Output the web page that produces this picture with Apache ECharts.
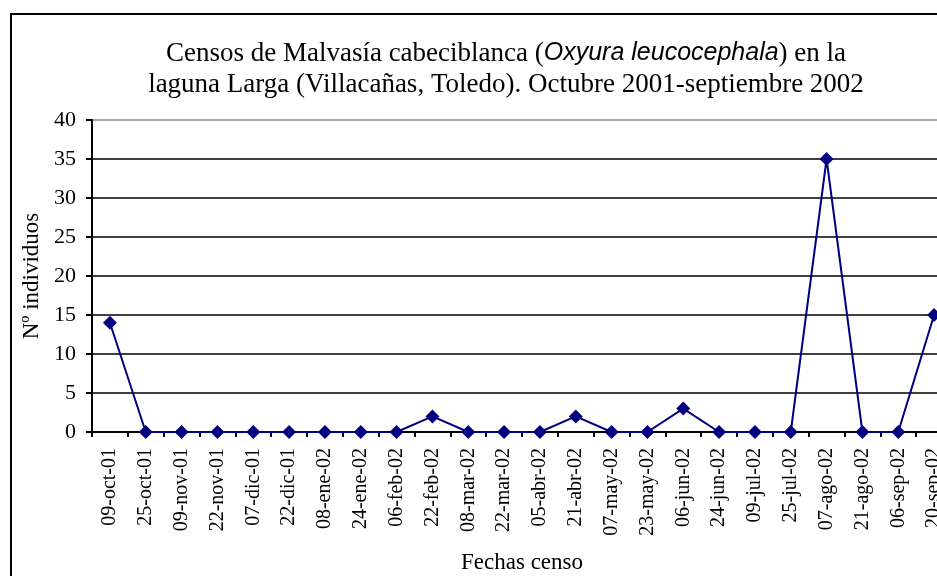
<!DOCTYPE html>
<html><head><meta charset="utf-8">
<script src="https://cdn.jsdelivr.net/npm/echarts@6/dist/echarts.min.js"></script>
<style>html,body{margin:0;padding:0;background:#fff}#c{width:937px;height:576px}</style>
</head><body><div id="c"></div>
<script>
const categories = ['09-oct-01','25-oct-01','09-nov-01','22-nov-01','07-dic-01','22-dic-01','08-ene-02','24-ene-02','06-feb-02','22-feb-02','08-mar-02','22-mar-02','05-abr-02','21-abr-02','07-may-02','23-may-02','06-jun-02','24-jun-02','09-jul-02','25-jul-02','07-ago-02','21-ago-02','06-sep-02','20-sep-02'];
const individuos = [14,0,0,0,0,0,0,0,0,2,0,0,0,2,0,0,3,0,0,0,35,0,0,15];
const yTicks = [0,5,10,15,20,25,30,35,40];

const serif = '"Liberation Serif", "DejaVu Serif", serif';
const chart = echarts.init(document.getElementById('c'), null, {renderer:'canvas'});
chart.setOption({
  animation:false,
  backgroundColor:'#fff',
  title:{
    text:'Censos de Malvasía cabeciblanca ({i|Oxyura leucocephala}) en la\nlaguna Larga (Villacañas, Toledo). Octubre 2001-septiembre 2002',
    left:501, top:33, textAlign:'center',
    textStyle:{
      fontFamily:serif, fontSize:27, fontWeight:'normal', color:'#000', lineHeight:31, align:'center',
      rich:{ i:{fontFamily:'"Liberation Sans", Arial, sans-serif', fontStyle:'italic', fontSize:25, color:'#000'} }
    }
  },
  graphic:[{type:'rect', shape:{x:11,y:14,width:1000,height:700}, style:{fill:'none',stroke:'#000',lineWidth:2}, silent:true}],
  grid:{left:92, top:120, right:-15, height:312, containLabel:false, outerBoundsMode:'none', show:false},
  xAxis:{
    type:'category', data:categories, boundaryGap:true,
    axisLine:{lineStyle:{color:'#000',width:2}},
    axisTick:{show:true, alignWithLabel:false, length:5, lineStyle:{color:'#000',width:2}},
    axisLabel:{rotate:90, interval:0, margin:16, fontFamily:serif, fontSize:20, color:'#000'},
    name:'Fechas censo', nameLocation:'middle', nameGap:119,
    nameTextStyle:{fontFamily:serif, fontSize:23, color:'#000'},
    splitLine:{show:false}
  },
  yAxis:{
    type:'value', min:0, max:40, interval:5,
    axisLine:{show:true, lineStyle:{color:'#000',width:2}},
    axisTick:{show:true, length:6, lineStyle:{color:'#000',width:2}},
    axisLabel:{fontFamily:serif, fontSize:22, color:'#000', margin:16,
      formatter:v=>yTicks.includes(v)?String(v):''},
    splitLine:{show:true, lineStyle:{color:['#000','#000','#000','#000','#000','#000','#000','#000','#888'], width:1.5}},
    name:'Nº individuos', nameLocation:'middle', nameGap:43,
    nameTextStyle:{fontFamily:serif, fontSize:23, color:'#000'}
  },
  series:[{
    type:'line', data:individuos,
    symbol:'diamond', symbolSize:14,
    lineStyle:{color:'#000080', width:2},
    itemStyle:{color:'#000080'}
  }]
});
</script></body></html>
